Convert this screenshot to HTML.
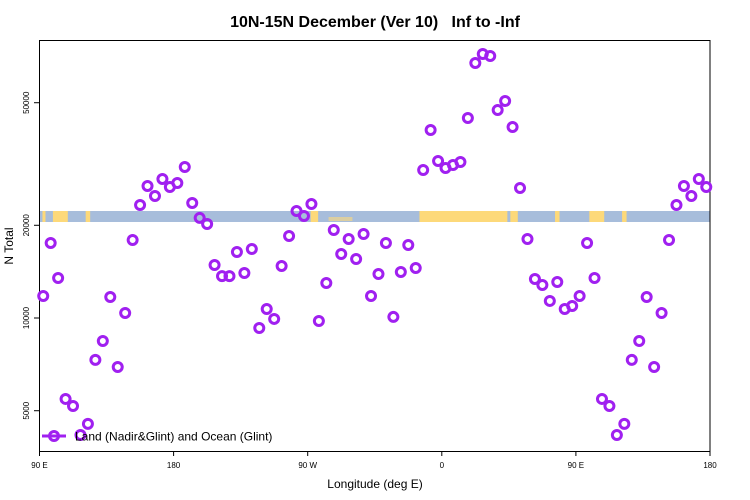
<!DOCTYPE html>
<html><head><meta charset="utf-8"><style>
body{margin:0;background:#fff}
svg{display:block;font-family:"Liberation Sans",sans-serif}
</style></head><body>
<svg id="chart" width="750" height="500">
<text x="375" y="27" text-anchor="middle" font-size="16" font-weight="bold" style="white-space:pre">10N-15N December (Ver 10)   Inf to -Inf</text>
<g id="band"></g>
<g id="yaxis"></g>
<g id="xaxis"></g>
<rect x="39.5" y="40.5" width="670.5" height="411" fill="none" stroke="#000" stroke-width="1"/>
<text x="375" y="488" text-anchor="middle" font-size="12">Longitude (deg E)</text>
<text transform="translate(13,246) rotate(-90)" text-anchor="middle" font-size="12">N Total</text>
<g id="points"></g>
<g>
<line x1="42" y1="436" x2="66" y2="436" stroke="#a020f0" stroke-width="3"/>
<circle cx="54" cy="436" r="4.5" fill="none" stroke="#a020f0" stroke-width="3"/>
<text x="75" y="440.5" font-size="12">Land (Nadir&amp;Glint) and Ocean (Glint)</text>
</g>
</svg>
<script>
const lons = [];
for (let i = 0; i < 90; i++) lons.push(92.5 + 5 * i);
const values = [11790,17520,13490,5460,5180,4170,4530,7310,8420,11700,6930,10380,17910,23280,26830,24890,28270,26630,27430,30930,23620,21130,20190,14860,13680,13680,16380,14000,16750,9280,10700,9930,14750,18460,22250,21430,23450,9780,12990,19310,16140,18050,15540,18740,11790,13900,17520,10080,14100,17260,14530,30240,40770,32340,30690,31390,32110,44590,67290,71960,70900,47330,50640,41690,26430,18050,13390,12800,11360,13090,10700,10940,
11790,17520,13490,5460,5180,4170,4530,7310,8420,11700,6930,10380,17910,23280,26830,24890,28270,26630];
const yTicks = [5000,10000,20000,50000];
const xTickLons = [90,180,270,360,450,540];
const xTickLabels = ["90 E","180","90 W","0","90 E","180"];
const landSpans = [[92,94],[99,109],[121,124],[272,277],[345,404],[406,411],[436,439],[459,469],[481,484]];
const sparseSpans = [[284,300]];

const NS="http://www.w3.org/2000/svg";
const X0=39.5,X1=710,LON0=90,LON1=540;
const xs=l=>X0+(l-LON0)/(LON1-LON0)*(X1-X0);
const ys=v=>318-(Math.log10(v)-4)*308;
function mk(tag,attrs,parent){const e=document.createElementNS(NS,tag);for(const k in attrs)e.setAttribute(k,attrs[k]);parent.appendChild(e);return e;}

const band=document.getElementById('band');
let r=mk('rect',{x:X0,y:211,width:X1-X0,height:11,fill:'#a7bddb'},band);


landSpans.forEach(s=>{
  const e=mk('rect',{x:xs(s[0]),y:211,width:xs(s[1])-xs(s[0]),height:11,fill:'#fdd97a'},band);
  
  
});
sparseSpans.forEach(s=>{
  const e=mk('rect',{x:xs(s[0]),y:217,width:xs(s[1])-xs(s[0]),height:4,fill:'#fdd97a',opacity:0.6},band);
  
  
});

const ya=document.getElementById('yaxis');
yTicks.forEach(v=>{
  const y=ys(v);
  const t=mk('line',{x1:34,x2:39.5,y1:y,y2:y,stroke:'#000'},ya);
  
  
  const tx=mk('text',{transform:`translate(29,${y}) rotate(-90)`,'text-anchor':'middle','font-size':'8'},ya);
  tx.textContent=v;
  
  
});
const xa=document.getElementById('xaxis');
xTickLons.forEach((l,i)=>{
  const x=xs(l);
  const t=mk('line',{x1:x,x2:x,y1:451.5,y2:456,stroke:'#000'},xa);
  
  
  const tx=mk('text',{x:x,y:468,'text-anchor':'middle','font-size':'8'},xa);
  tx.textContent=xTickLabels[i];
  
  
});
const pg=document.getElementById('points');
values.forEach((v,i)=>{
  const c=mk('circle',{cx:xs(lons[i]),cy:ys(v),r:4.5,fill:'none',stroke:'#a020f0','stroke-width':3},pg);
  
  
});
</script>
</body></html>
